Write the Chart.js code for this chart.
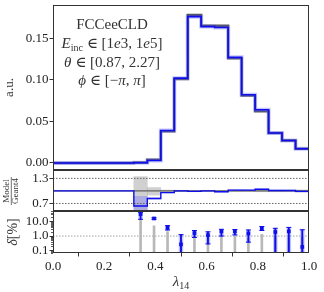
<!DOCTYPE html>
<html>
<head>
<meta charset="utf-8">
<script src="https://cdn.jsdelivr.net/npm/chart.js@4.4.1/dist/chart.umd.min.js"></script>
<style>
  html, body { margin: 0; padding: 0; background: #fff; }
  #wrap { position: relative; width: 324px; height: 292px; }
  .panel { position: absolute; left: 0; width: 324px; }
</style>
</head>
<body>
<div id="wrap">
  <div class="panel" style="top:0;height:170px"><canvas id="main"></canvas></div>
  <div class="panel" style="top:170px;height:41px"><canvas id="ratio"></canvas></div>
  <div class="panel" style="top:211px;height:81px"><canvas id="delta"></canvas></div>
</div>
<script>
// bins of lambda_14 (19 bins on [0, 1])
const binEdges = [0, 0.0526, 0.1053, 0.1579, 0.2105, 0.2632, 0.3158, 0.3684, 0.4211, 0.4737,
                  0.5263, 0.5789, 0.6316, 0.6842, 0.7368, 0.7895, 0.8421, 0.8947, 0.9474, 1.0];
const binCenters = [0.0263, 0.0789, 0.1316, 0.1842, 0.2368, 0.2895, 0.3421, 0.3947, 0.4474, 0.5,
                    0.5526, 0.6053, 0.6579, 0.7105, 0.7632, 0.8158, 0.8684, 0.9211, 0.9737];

// main panel (a.u.)
const geant4Vals = [0, 0, 0, 0, 0, 0, 0.0005, 0.004, 0.038, 0.101, 0.178, 0.165, 0.165, 0.126, 0.081, 0.062, 0.036, 0.027, 0.017];
const modelVals  = [0, 0, 0, 0, 0, 0, 0.0003, 0.003, 0.039, 0.102, 0.176, 0.164, 0.163, 0.127, 0.082, 0.064, 0.036, 0.027, 0.017];

// ratio panel (Model / Geant4)
const ratioVals   = [1, 1, 1, 1, 1, 1, 0.64, 0.82, 0.96, 1.0, 0.99, 1.0, 0.98, 1.02, 1.02, 1.04, 1.01, 1.01, 0.99];
const geantBandLo = [null, null, null, null, null, null, 0.5, 0.9, 0.98, 0.985, 0.99, 0.99, 0.99, 0.985, 0.985, 0.98, 0.98, 0.98, 0.975];
const geantBandHi = [null, null, null, null, null, null, 1.34, 1.08, 1.02, 1.015, 1.01, 1.01, 1.01, 1.015, 1.015, 1.02, 1.02, 1.02, 1.025];
const modelBandLo = [null, null, null, null, null, null, 0.5, 0.8, 0.95, 0.99, 0.98, 0.99, 0.97, 1.01, 1.01, 1.03, 1.0, 1.0, 0.97];
const modelBandHi = [null, null, null, null, null, null, 0.87, 0.84, 0.97, 1.01, 1.0, 1.01, 0.99, 1.03, 1.03, 1.05, 1.02, 1.02, 1.01];
const ratioRefs = [0.7, 1.0, 1.3];

// delta panel (%)
const deltaVals  = [null, null, null, null, null, null, 32, 16, 3.7, 0.27, 1.6, 1.15, 2.1, 2.1, 1.5, 3.4, 1.9, 2.1, 0.18];
const deltaErrLo = [null, null, null, null, null, null, 14, 14, 2.6, 0.01, 0.8, 0.29, 1.0, 1.2, 0.38, 2.4, 0.01, 0.01, 0.01];
const deltaErrHi = [null, null, null, null, null, null, 40, 18, 5.2, 1.25, 2.4, 1.95, 2.9, 2.8, 2.6, 4.5, 3.4, 3.9, 2.7];
const geantDelta = [null, null, null, null, null, null, 12, 5.0, 2.0, 0.5, 1.0, 0.9, 0.9, 1.0, 0.7, 1.3, 1.0, 0.9, 0.8];

const mainTicks = [0, 0.05, 0.10, 0.15];
const deltaTicks = [0.1, 1, 10];
const xTicks = [0, 0.2, 0.4, 0.6, 0.8, 1.0];

const annotationLines = [
  [['FCCeeCLD', 'r']],
  [['E', 'i'], ['inc', 's'], [' \u2208 [1', 'r'], ['e', 'i'], ['3, 1', 'r'], ['e', 'i'], ['5]', 'r']],
  [['\u03b8', 'i'], [' \u2208 [0.87, 2.27]', 'r']],
  [['\u03d5', 'i'], [' \u2208 [\u2212', 'r'], ['\u03c0', 'i'], [', ', 'r'], ['\u03c0', 'i'], [']', 'r']]
];

const SERIF = "'Liberation Serif', 'DejaVu Serif', serif";
const BLUE = 'rgb(15,15,235)';
Chart.defaults.font.family = SERIF;
Chart.defaults.color = '#222';

function stepPoints(vals) {
  return binEdges.map((x, i) => ({ x: x, y: vals[Math.min(i, vals.length - 1)] }));
}
function rangeBars(lo, hi) {
  return binCenters.map((x, i) => (lo[i] == null ? null : { x: x, y: [lo[i], hi[i]] })).filter(p => p);
}
function pointsOf(vals) {
  return binCenters.map((x, i) => (vals[i] == null ? null : { x: x, y: vals[i] })).filter(p => p);
}

function drawRich(ctx, segs, cx, y, size) {
  const fonts = {
    r: size + 'px ' + SERIF,
    i: 'italic ' + size + 'px ' + SERIF,
    s: Math.round(size * 0.68) + 'px ' + SERIF
  };
  let w = 0;
  segs.forEach(([t, s]) => { ctx.font = fonts[s]; w += ctx.measureText(t).width; });
  let x = cx - w / 2;
  ctx.textAlign = 'left';
  ctx.textBaseline = 'alphabetic';
  segs.forEach(([t, s]) => {
    ctx.font = fonts[s];
    ctx.fillText(t, x, s === 's' ? y + size * 0.22 : y);
    x += ctx.measureText(t).width;
  });
}

// box around each panel
const framePlugin = {
  id: 'frame',
  afterDraw(chart) {
    const a = chart.chartArea, ctx = chart.ctx;
    ctx.save();
    ctx.strokeStyle = '#333';
    ctx.lineWidth = 1;
    ctx.strokeRect(a.left + 0.5, a.top + 0.5, a.right - a.left - 1, a.bottom - a.top - 1);
    ctx.restore();
  }
};

// fixed axis width, and no extra room for the end labels
const fixWidth = s => { s.width = 53; s.paddingTop = 0; s.paddingBottom = 0; };

function yScale(extra) {
  return Object.assign({
    border: { display: false },
    grid: { drawOnChartArea: false, tickLength: 3.5, color: '#333' },
    afterFit: fixWidth
  }, extra);
}
const hiddenX = { type: 'linear', min: 0, max: 1, display: false, offset: false };

const common = {
  responsive: true,
  maintainAspectRatio: false,
  animation: false,
  plugins: { legend: { display: false }, tooltip: { enabled: false } }
};

// ---------- main panel ----------
new Chart(document.getElementById('main'), {
  type: 'line',
  data: {
    datasets: [{
      data: stepPoints(modelVals), borderColor: BLUE, borderWidth: 1.6,
      stepped: 'before', pointRadius: 0, order: 1
    }, {
      data: stepPoints(modelVals), borderColor: 'rgba(90,90,255,0.35)', borderWidth: 4,
      stepped: 'before', pointRadius: 0, order: 2
    }, {
      data: stepPoints(geant4Vals), borderColor: '#555', borderWidth: 2.4,
      stepped: 'before', pointRadius: 0, order: 3
    }]
  },
  options: Object.assign({}, common, {
    layout: { autoPadding: false, padding: { left: 0, right: 15, top: 5, bottom: 0 } },
    scales: {
      x: hiddenX,
      y: yScale({
        min: -0.0085, max: 0.19,
        afterBuildTicks: axis => { axis.ticks = mainTicks.map(v => ({ value: v })); },
        ticks: { padding: 1, font: { size: 13 }, callback: v => v.toFixed(2) }
      })
    }
  }),
  plugins: [framePlugin, {
    id: 'labels',
    afterDraw(chart) {
      const ctx = chart.ctx;
      ctx.save();
      ctx.fillStyle = '#333';
      const cx = 112;
      const baselines = [29, 48, 67, 85];
      annotationLines.forEach((segs, i) => drawRich(ctx, segs, cx, baselines[i], 15));
      ctx.translate(10, 87.5);
      ctx.rotate(-Math.PI / 2);
      ctx.font = '13px ' + SERIF;
      ctx.textAlign = 'center';
      ctx.textBaseline = 'middle';
      ctx.fillText('a.u.', 0, 0);
      ctx.restore();
    }
  }]
});

// ---------- ratio panel ----------
new Chart(document.getElementById('ratio'), {
  type: 'line',
  data: {
    datasets: [{
      data: stepPoints(ratioVals), borderColor: BLUE, borderWidth: 1.4,
      stepped: 'before', pointRadius: 0, order: 1
    }, {
      data: [{ x: 0, y: ratioRefs[1] }, { x: 1, y: ratioRefs[1] }], borderColor: '#444',
      borderWidth: 1, pointRadius: 0, order: 2
    }, {
      data: [{ x: 0, y: ratioRefs[0] }, { x: 1, y: ratioRefs[0] }], borderColor: '#666',
      borderWidth: 1, borderDash: [1.5, 1.5], pointRadius: 0, order: 2
    }, {
      data: [{ x: 0, y: ratioRefs[2] }, { x: 1, y: ratioRefs[2] }], borderColor: '#666',
      borderWidth: 1, borderDash: [1.5, 1.5], pointRadius: 0, order: 2
    }, {
      type: 'bar', data: rangeBars(modelBandLo, modelBandHi), backgroundColor: 'rgba(90,90,255,0.3)',
      grouped: false, categoryPercentage: 1, barPercentage: 1, order: 3
    }, {
      type: 'bar', data: rangeBars(geantBandLo, geantBandHi), backgroundColor: 'rgba(150,150,150,0.45)',
      grouped: false, categoryPercentage: 1, barPercentage: 1, order: 4
    }]
  },
  options: Object.assign({}, common, {
    layout: { autoPadding: false, padding: { left: 0, right: 15, top: 0, bottom: 0 } },
    scales: {
      x: hiddenX,
      y: yScale({
        min: 0.52, max: 1.5,
        afterBuildTicks: axis => { axis.ticks = ratioRefs.map(v => ({ value: v })); },
        ticks: { padding: 1, font: { size: 13 }, callback: v => v.toFixed(1) }
      })
    }
  }),
  plugins: [framePlugin, {
    id: 'ratioLabel',
    afterDraw(chart) {
      const ctx = chart.ctx;
      ctx.save();
      ctx.translate(11, 21);
      ctx.rotate(-Math.PI / 2);
      ctx.fillStyle = '#333';
      ctx.strokeStyle = '#333';
      ctx.font = '9px ' + SERIF;
      ctx.textAlign = 'center';
      ctx.textBaseline = 'middle';
      ctx.fillText('Model', 0, -4.5);
      ctx.fillText('Geant4', 0, 5);
      ctx.lineWidth = 0.7;
      ctx.beginPath();
      ctx.moveTo(-14, 0.3);
      ctx.lineTo(14, 0.3);
      ctx.stroke();
      ctx.restore();
    }
  }]
});

// ---------- delta panel ----------
new Chart(document.getElementById('delta'), {
  type: 'line',
  data: {
    datasets: [{
      data: pointsOf(deltaVals), showLine: false, pointStyle: 'rect', pointRadius: 2.6,
      backgroundColor: BLUE, borderColor: BLUE, borderWidth: 0, order: 1
    }, {
      data: pointsOf(deltaErrHi).concat(pointsOf(deltaErrLo)), showLine: false, pointStyle: 'line',
      pointRadius: 2.5, borderColor: BLUE, borderWidth: 1, order: 2
    }, {
      type: 'bar', data: rangeBars(deltaErrLo, deltaErrHi), backgroundColor: BLUE,
      grouped: false, barThickness: 1.2, order: 3
    }, {
      type: 'bar', data: rangeBars(deltaErrLo, deltaErrHi), backgroundColor: 'rgba(80,80,255,0.3)',
      grouped: false, barThickness: 4, order: 4
    }, {
      type: 'bar', data: rangeBars(geantDelta.map(v => (v == null ? null : 0.01)), geantDelta),
      backgroundColor: '#b8b8b8', grouped: false, barThickness: 2, order: 5
    }, {
      data: [{ x: 0, y: 1 }, { x: 1, y: 1 }], borderColor: '#888', borderWidth: 0.8,
      borderDash: [1.5, 1.5], pointRadius: 0, order: 6
    }]
  },
  options: Object.assign({}, common, {
    layout: { autoPadding: false, padding: { left: 0, right: 15, top: 0, bottom: 0 } },
    scales: {
      x: {
        type: 'linear', min: 0, max: 1, offset: false,
        border: { display: false },
        grid: { drawOnChartArea: false, tickLength: 3.5, color: '#333' },
        afterBuildTicks: axis => { axis.ticks = xTicks.map(v => ({ value: v })); },
        ticks: { padding: 2, font: { size: 13 }, maxRotation: 0, callback: v => v.toFixed(1) },
        afterFit: s => { s.height = 39; s.paddingLeft = 0; s.paddingRight = 0; }
      },
      y: yScale({
        type: 'logarithmic', min: 0.069, max: 52,
        afterBuildTicks: axis => { axis.ticks = deltaTicks.map(v => ({ value: v })); },
        ticks: { padding: 1, font: { size: 13 }, callback: v => v.toFixed(1) }
      })
    }
  }),
  plugins: [framePlugin, {
    id: 'deltaLabels',
    afterDraw(chart) {
      const ctx = chart.ctx, a = chart.chartArea, y = chart.scales.y;
      ctx.save();
      // minor log ticks
      ctx.strokeStyle = '#333';
      ctx.lineWidth = 0.8;
      [0.01, 0.1, 1, 10].forEach(d => {
        for (let m = 2; m <= 9; m++) {
          const v = m * d;
          if (v <= y.min || v >= y.max) continue;
          const py = Math.round(y.getPixelForValue(v)) + 0.5;
          ctx.beginPath();
          ctx.moveTo(a.left - 2, py);
          ctx.lineTo(a.left, py);
          ctx.stroke();
        }
      });
      ctx.fillStyle = '#333';
      // x-axis title
      drawRich(ctx, [['\u03bb', 'i'], ['14', 's']], (a.left + a.right) / 2, 75, 15);
      // y-axis title
      ctx.translate(12, (a.top + a.bottom) / 2);
      ctx.rotate(-Math.PI / 2);
      drawRich(ctx, [['\u03b4', 'i'], ['[%]', 'r']], 0, 5, 14);
      ctx.restore();
    }
  }]
});
</script>
</body>
</html>
